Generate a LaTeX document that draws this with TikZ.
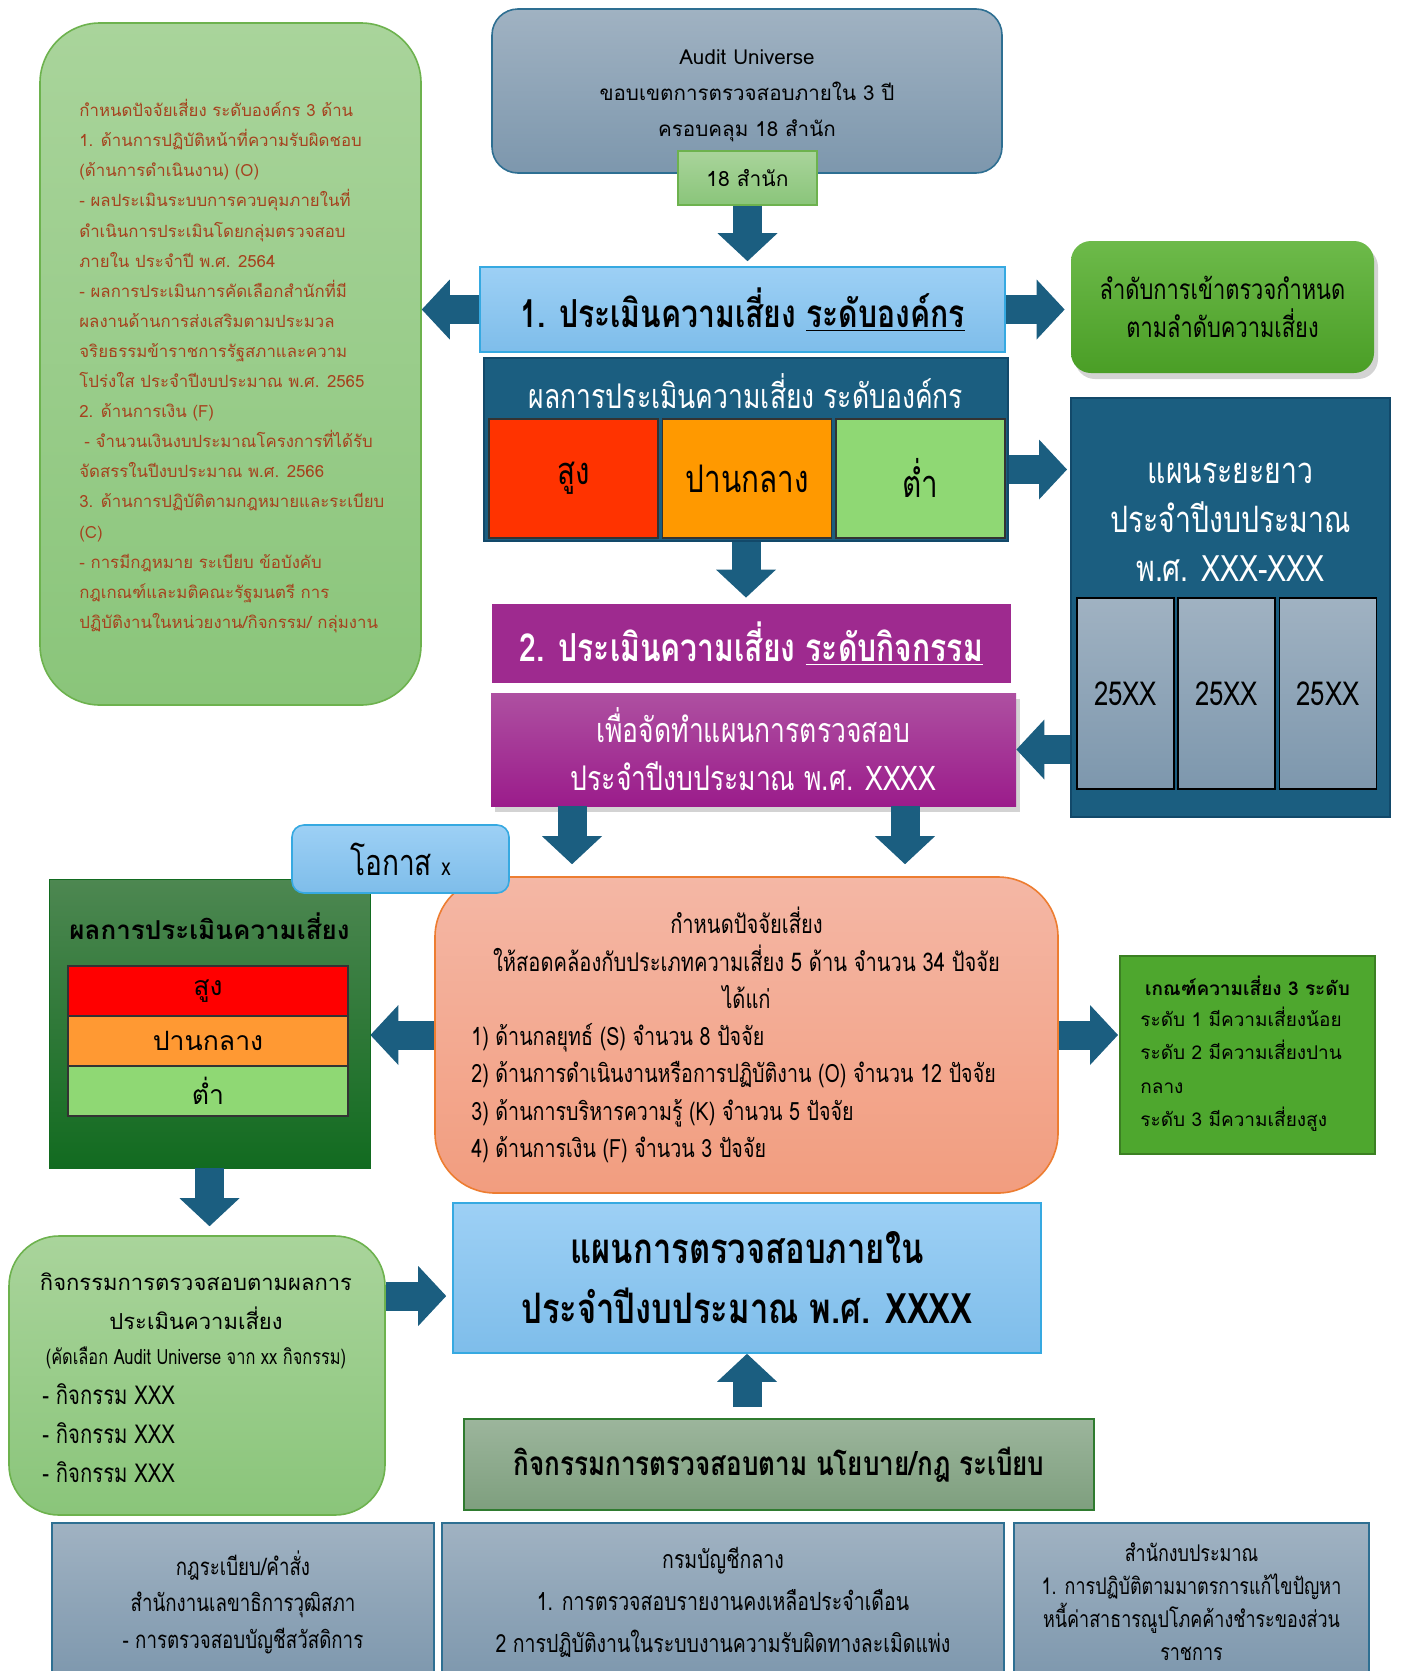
\documentclass[tikz,border=0pt]{standalone}
\usepackage{fontspec}
\setmainfont{Loma}[Script=Thai]
\newfontfamily\narrowfont{Loma}[Script=Thai, FakeStretch=0.78]
\usepackage{tikz}
\usetikzlibrary{arrows.meta, positioning, calc, shadows}
\definecolor{arrowblue}{HTML}{1B5E80}
\definecolor{arrowedge}{HTML}{12496A}
\definecolor{leaftop}{HTML}{A9D49B}
\definecolor{leafbot}{HTML}{8AC57A}
\definecolor{leafedge}{HTML}{6DB24E}
\definecolor{rusttext}{HTML}{A5421E}
\definecolor{steeltop}{HTML}{A0B2C2}
\definecolor{steelbot}{HTML}{7D97AD}
\definecolor{steeledge}{HTML}{2E6F92}
\definecolor{skytop}{HTML}{9DD0F5}
\definecolor{skybot}{HTML}{7EBDEA}
\definecolor{skyedge}{HTML}{36A9E1}
\definecolor{grasstop}{HTML}{6DBA4A}
\definecolor{grassbot}{HTML}{4A9E26}
\definecolor{highred}{HTML}{FF3300}
\definecolor{midorange}{HTML}{FF9900}
\definecolor{lowgreen}{HTML}{8FD874}
\definecolor{plum}{HTML}{9E2A8F}
\definecolor{plumtop}{HTML}{AE50A1}
\definecolor{plumbot}{HTML}{9B1C8B}
\definecolor{forest}{HTML}{4D8751}
\definecolor{forestbot}{HTML}{126B20}
\definecolor{salmontop}{HTML}{F4B7A5}
\definecolor{salmonbot}{HTML}{F29D7F}
\definecolor{salmonedge}{HTML}{ED7D31}
\definecolor{critgreen}{HTML}{4EA72E}
\definecolor{critedge}{HTML}{3B8022}
\definecolor{sagetop}{HTML}{9CB59C}
\definecolor{sagebot}{HTML}{7E9F7E}
\definecolor{sageedge}{HTML}{2F7B2F}

\begin{document}
\begin{tikzpicture}[x=0.5pt, y=-0.5pt,
    greenpanel/.style={draw=leafedge, line width=0.8pt, top color=leaftop, bottom color=leafbot},
    greypanel/.style={draw=steeledge, line width=0.8pt, top color=steeltop, bottom color=steelbot},
    skypanel/.style={draw=skyedge, line width=0.8pt, top color=skytop, bottom color=skybot},
    navypanel/.style={draw=arrowedge, line width=1pt, fill=arrowblue},
    cell/.style={draw=black!80, line width=0.8pt, inner sep=0pt},
    fatarrow/.style={draw=arrowblue, line width=14.5pt,
      -{Triangle[length=14pt 0 0, width=30pt 0 0, line width=0pt 0 0]}}]
  \useasboundingbox (0,0) rectangle (1402,1671);

  % left column: organisation factors
  \node[greenpanel, rounded corners=30pt, minimum width=190.5pt, minimum height=341pt] (factors) at (230.5,364) {};
  \node[anchor=west, inner sep=0pt, align=left, text=rusttext, font={\fontsize{8.4}{15.05}\selectfont}] (factortext) at (79,366) {%
    กำหนดปัจจัยเสี่ยง ระดับองค์กร 3 ด้าน\\
    1. ด้านการปฏิบัติหน้าที่ความรับผิดชอบ\\
    (ด้านการดำเนินงาน) (O)\\
    - ผลประเมินระบบการควบคุมภายในที่\\
    ดำเนินการประเมินโดยกลุ่มตรวจสอบ\\
    ภายใน ประจำปี พ.ศ. 2564\\
    - ผลการประเมินการคัดเลือกสำนักที่มี\\
    ผลงานด้านการส่งเสริมตามประมวล\\
    จริยธรรมข้าราชการรัฐสภาและความ\\
    โปร่งใส ประจำปีงบประมาณ พ.ศ. 2565\\
    2. ด้านการเงิน (F)\\
    \hspace{0.3em}- จำนวนเงินงบประมาณโครงการที่ได้รับ\\
    จัดสรรในปีงบประมาณ พ.ศ. 2566\\
    3. ด้านการปฏิบัติตามกฎหมายและระเบียบ\\
    (C)\\
    - การมีกฎหมาย ระเบียบ ข้อบังคับ\\
    กฎเกณฑ์และมติคณะรัฐมนตรี การ\\
    ปฏิบัติงานในหน่วยงาน/กิจกรรม/ กลุ่มงาน};

  % top: audit universe
  \node[greypanel, rounded corners=13pt, minimum width=255pt, minimum height=82pt] (universe) at (747,91) {};
  \node[align=center, font={\fontsize{10.3}{18}\selectfont}] (universetext) at (747,96) {%
    Audit Universe\\ขอบเขตการตรวจสอบภายใน 3 ปี\\ครอบคลุม 18 สำนัก};
  \node[greenpanel, minimum width=69.5pt, minimum height=27pt, font={\fontsize{10.5}{12}\selectfont}] (offices) at (747.5,178) {18 สำนัก};

  % step 1
  \node[skypanel, minimum width=262.5pt, minimum height=42.5pt, font={\narrowfont\bfseries\fontsize{19.3}{22}\selectfont}] (orglevel) at (742.5,309.5) {1. ประเมินความเสี่ยง \underline{ระดับองค์กร}};
  \node[draw=none, rounded corners=10pt, top color=grasstop, bottom color=grassbot, minimum width=151.5pt, minimum height=66pt,
    drop shadow={opacity=0.35, shadow xshift=2pt, shadow yshift=-3pt},
    align=center, font={\narrowfont\fontsize{14}{19}\selectfont}] (ranking) at (1222.5,307) {%
    ลำดับการเข้าตรวจกำหนด\\ตามลำดับความเสี่ยง};

  \node[navypanel, minimum width=262pt, minimum height=91.5pt] (orgresult) at (746,449.5) {};
  \node[text=white, font={\narrowfont\fontsize{17}{20}\selectfont}] (orgtitle) at (746,391) {ผลการประเมินความเสี่ยง ระดับองค์กร};
  \node[cell, fill=highred, minimum width=84.5pt, minimum height=59.5pt, font={\narrowfont\fontsize{19}{22}\selectfont}] (orghigh) at (573.5,478.5) {\raisebox{-3pt}{สูง}};
  \node[cell, fill=midorange, minimum width=84.5pt, minimum height=59.5pt, font={\narrowfont\fontsize{19}{22}\selectfont}] (orgmid) at (747,478.5) {ปานกลาง};
  \node[cell, fill=lowgreen, minimum width=84.5pt, minimum height=59.5pt, font={\narrowfont\fontsize{19}{22}\selectfont}] (orglow) at (920.5,478.5) {\raisebox{1pt}{ต่ำ}};

  % long-term plan
  \node[navypanel, minimum width=159.5pt, minimum height=209.5pt] (longterm) at (1230.5,607.5) {};
  \node[text=white, align=center, font={\narrowfont\fontsize{18.2}{24.5}\selectfont}] (longtitle) at (1230.5,522) {%
    แผนระยะยาว\\ประจำปีงบประมาณ\\พ.ศ. XXX-XXX};
  \foreach \cx [count=\i] in {1125.5,1226.5,1328}
    \node[cell, draw=black, top color=steeltop, bottom color=steelbot, minimum width=48.5pt, minimum height=95.5pt,
      font={\narrowfont\fontsize{16.5}{20}\selectfont}] (year\i) at (\cx,693.5) {25XX};

  % step 2
  \node[fill=plum, minimum width=259.5pt, minimum height=39.5pt, text=white,
    font={\narrowfont\bfseries\fontsize{19.3}{22}\selectfont}] (actlevel) at (751.5,643.5) {2. ประเมินความเสี่ยง \underline{ระดับกิจกรรม}};
  \node[top color=plumtop, bottom color=plumbot, minimum width=262.5pt, minimum height=56.5pt,
    drop shadow={opacity=0.35, shadow xshift=2pt, shadow yshift=-3pt},
    text=white, align=center, font={\narrowfont\fontsize{17}{24}\selectfont}] (purpose) at (753.5,749.5) {%
    เพื่อจัดทำแผนการตรวจสอบ\\ประจำปีงบประมาณ พ.ศ. XXXX};

  % activity risk result
  \node[draw=forestbot, top color=forest, bottom color=forestbot, minimum width=160.5pt, minimum height=144.5pt] (riskres) at (209.5,1023.5) {};
  \node[font={\bfseries\fontsize{13}{16}\selectfont}] (risktitle) at (209.5,926) {ผลการประเมินความเสี่ยง};
  \node[cell, fill=red, minimum width=140pt, minimum height=25pt, font={\fontsize{13.3}{16}\selectfont}] (riskhigh) at (208,991) {\raisebox{-3pt}{สูง}};
  \node[cell, fill={rgb,255:red,255;green,153;blue,51}, minimum width=140pt, minimum height=25pt, font={\fontsize{13.3}{16}\selectfont}] (riskmid) at (208,1041) {\raisebox{-2pt}{ปานกลาง}};
  \node[cell, fill=lowgreen, minimum width=140pt, minimum height=25pt, font={\fontsize{13.3}{16}\selectfont}] (risklow) at (208,1091) {\raisebox{-2pt}{ต่ำ}};

  % risk factors
  \node[draw=salmonedge, line width=0.8pt, rounded corners=30pt, top color=salmontop, bottom color=salmonbot,
    minimum width=311.5pt, minimum height=158pt] (factorsbox) at (746.5,1035) {};
  \node[align=center, font={\narrowfont\fontsize{12.9}{18.75}\selectfont}] (factorhead) at (746.5,958) {%
    กำหนดปัจจัยเสี่ยง\\ให้สอดคล้องกับประเภทความเสี่ยง 5 ด้าน จำนวน 34 ปัจจัย\\ได้แก่};
  \node[anchor=west, inner sep=0pt, align=left, font={\narrowfont\fontsize{12.6}{18.75}\selectfont}] (factorlist) at (471,1093) {%
    1) ด้านกลยุทธ์ (S) จำนวน 8 ปัจจัย\\
    2) ด้านการดำเนินงานหรือการปฏิบัติงาน (O) จำนวน 12 ปัจจัย\\
    3) ด้านการบริหารความรู้ (K) จำนวน 5 ปัจจัย\\
    4) ด้านการเงิน (F) จำนวน 3 ปัจจัย};

  % criteria
  \node[draw=critedge, line width=1pt, fill=critgreen, minimum width=127.5pt, minimum height=99pt] (criteria) at (1247.5,1055) {};
  \node[font={\bfseries\fontsize{9.5}{12}\selectfont}] (crittitle) at (1247.5,986) {เกณฑ์ความเสี่ยง 3 ระดับ};
  \node[anchor=west, inner sep=0pt, align=left, font={\fontsize{9.5}{16.75}\selectfont}] (critlist) at (1140,1069) {%
    ระดับ 1 มีความเสี่ยงน้อย\\ระดับ 2 มีความเสี่ยงปาน\\กลาง\\ระดับ 3 มีความเสี่ยงสูง};

  % audit activities
  \node[greenpanel, rounded corners=25pt, minimum width=188pt, minimum height=139.5pt] (activities) at (197,1375.5) {};
  \node[align=center, font={\fontsize{11}{19.5}\selectfont}] (acthead) at (196,1301.5) {%
    กิจกรรมการตรวจสอบตามผลการ\\ประเมินความเสี่ยง};
  \node[font={\narrowfont\fontsize{10.5}{12}\selectfont}] (actnote) at (196,1358) {(คัดเลือก Audit Universe จาก xx กิจกรรม)};
  \node[anchor=west, inner sep=0pt, align=left, font={\narrowfont\fontsize{13}{19.5}\selectfont}] (actlist) at (42,1433.5) {%
    - กิจกรรม XXX\\- กิจกรรม XXX\\- กิจกรรม XXX};

  % annual plan
  \node[skypanel, minimum width=294pt, minimum height=75pt, align=center,
    font={\narrowfont\bfseries\fontsize{21}{30}\selectfont}] (plan) at (747,1278) {%
    แผนการตรวจสอบภายใน\\ประจำปีงบประมาณ พ.ศ. XXXX};
  \node[draw=sageedge, line width=0.8pt, top color=sagetop, bottom color=sagebot, minimum width=315pt, minimum height=45.5pt,
    font={\narrowfont\bfseries\fontsize{16.7}{20}\selectfont}] (policy) at (779,1464.5) {กิจกรรมการตรวจสอบตาม นโยบาย/กฎ ระเบียบ};

  % sources
  \node[greypanel, minimum width=191pt, minimum height=79pt, align=center,
    font={\narrowfont\fontsize{12}{18.25}\selectfont}] (senate) at (243,1602) {%
    กฎระเบียบ/คำสั่ง\\สำนักงานเลขาธิการวุฒิสภา\\- การตรวจสอบบัญชีสวัสดิการ};
  \node[greypanel, minimum width=281pt, minimum height=79pt, align=center,
    font={\narrowfont\fontsize{12.5}{21}\selectfont}] (comptroller) at (723,1602) {%
    กรมบัญชีกลาง\\1. การตรวจสอบรายงานคงเหลือประจำเดือน\\2 การปฏิบัติงานในระบบงานความรับผิดทางละเมิดแพ่ง};
  \node[greypanel, minimum width=177.5pt, minimum height=79pt, align=center,
    font={\narrowfont\fontsize{11.5}{16.5}\selectfont}] (budget) at (1191.5,1602) {%
    สำนักงบประมาณ\\1. การปฏิบัติตามมาตรการแก้ไขปัญหา\\หนี้ค่าสาธารณูปโภคค้างชำระของส่วน\\ราชการ};

  % block arrows
  \draw[fatarrow, shorten >=2.5pt] (offices.south) -- (offices.south |- orglevel.north);
  \draw[fatarrow] (orglevel.west) -- (factors.east |- orglevel.west);
  \draw[fatarrow, shorten >=3pt] (orglevel.east) -- (ranking.west |- orglevel.east);
  \draw[fatarrow, shorten >=1.5pt] ([yshift=-10pt]orgresult.east) -- ([yshift=-10pt]orgresult.east -| longterm.west);
  \draw[fatarrow, shorten >=3pt] (orgresult.south) -- (orgresult.south |- actlevel.north);
  \draw[fatarrow] (purpose.east -| longterm.west) -- (purpose.east);
  \draw[fatarrow, shorten >=6pt] ([xshift=-90.75pt]purpose.south) -- ([xshift=-90.75pt]purpose.south |- factorsbox.north);
  \draw[fatarrow, shorten >=6pt] ([xshift=75.75pt]purpose.south) -- ([xshift=75.75pt]purpose.south |- factorsbox.north);
  \draw[fatarrow] (factorsbox.west) -- (riskres.east |- factorsbox.west);
  \draw[fatarrow, shorten >=0.5pt] (factorsbox.east) -- (criteria.west |- factorsbox.east);
  \draw[fatarrow, shorten >=4.5pt] (riskres.south) -- (riskres.south |- activities.north);
  \draw[fatarrow, shorten >=3pt] (activities.east |- {$(plan.west)+(0,18)$}) -- ($(plan.west)+(0,18)$);
  \draw[fatarrow, shorten <=5.5pt] (policy.north -| plan.south) -- (plan.south);

  % chance tab
  \node[skypanel, rounded corners=6pt, minimum width=108.5pt, minimum height=34pt,
    font={\narrowfont\fontsize{18}{20}\selectfont}] (chance) at (400.5,859) {\raisebox{-4pt}{โอกาส {\fontsize{12}{12}\selectfont x}}};
\end{tikzpicture}
\end{document}
